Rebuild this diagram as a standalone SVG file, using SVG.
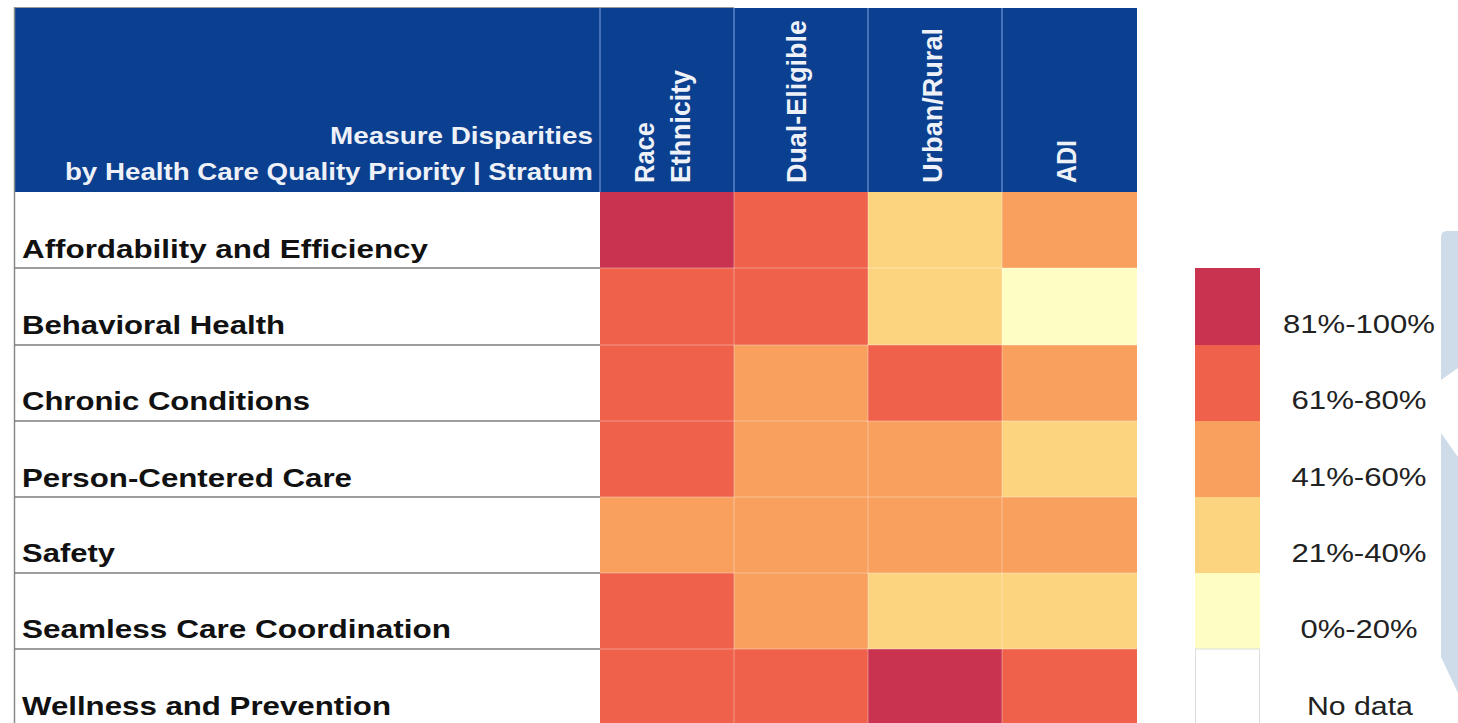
<svg xmlns="http://www.w3.org/2000/svg" width="1458" height="723" viewBox="0 0 1458 723">
<style>
.c5{fill:#C93350}.c4{fill:#EF614B}.c3{fill:#F9A05E}.c2{fill:#FCD47F}.c1{fill:#FEFDC4}.c0{fill:#FFFFFF}
.hdr{fill:#0B3F8F}
.lbl{font-family:"Liberation Sans",Arial,sans-serif;font-weight:bold;font-size:26px;fill:#111}
.htx{font-family:"Liberation Sans",Arial,sans-serif;font-weight:bold;font-size:24px;fill:#EEF2F8}
.vtx{font-family:"Liberation Sans",Arial,sans-serif;font-weight:bold;font-size:27px;fill:#EEF2F8}
.leg{font-family:"Liberation Sans",Arial,sans-serif;font-size:26px;fill:#222}
.rowline{stroke:#7d7d7d;stroke-width:1.5}
.cellsep{stroke:#ffffff;stroke-opacity:0.35;stroke-width:1}
.hsep{stroke:#6F93D2;stroke-width:1.2}
.deco{fill:#CEDCEA}
</style>
<rect x="0" y="0" width="1458" height="723" fill="#FFFFFF"/>

<!-- decorative light blue shapes on the right edge -->
<g id="decor">
<path class="deco" d="M1441,237 Q1441,231 1447,231 L1458,231 L1458,368 L1441,380 Z"/>
<path class="deco" d="M1441,433 L1458,457 L1458,693 L1441,657 Z"/>
</g>

<!-- header -->
<g id="header">
<rect class="hdr" x="14" y="8" width="1123" height="184"/>
<line x1="14" y1="7.5" x2="734" y2="7.5" stroke="#9a9a9a" stroke-width="1"/>
<line class="hsep" x1="600" y1="8" x2="600" y2="192"/>
<line class="hsep" x1="734" y1="8" x2="734" y2="192"/>
<line class="hsep" x1="868" y1="8" x2="868" y2="192"/>
<line class="hsep" x1="1002" y1="8" x2="1002" y2="192"/>
<g transform="scale(1.16 1)">
<text class="htx" x="511.2" y="144" text-anchor="end" textLength="226.7" lengthAdjust="spacingAndGlyphs">Measure Disparities</text>
<text class="htx" x="511.2" y="180" text-anchor="end" textLength="455.2" lengthAdjust="spacingAndGlyphs">by Health Care Quality Priority | Stratum</text>
</g>
</g>
<g id="col-race"><text class="vtx" transform="translate(654,183) rotate(-90)" textLength="61" lengthAdjust="spacingAndGlyphs">Race</text><text class="vtx" transform="translate(690,183) rotate(-90)" textLength="113" lengthAdjust="spacingAndGlyphs">Ethnicity</text></g>
<g id="col-dual"><text class="vtx" transform="translate(806,183) rotate(-90)" textLength="163" lengthAdjust="spacingAndGlyphs">Dual-Eligible</text></g>
<g id="col-urban"><text class="vtx" transform="translate(942,183) rotate(-90)" textLength="155" lengthAdjust="spacingAndGlyphs">Urban/Rural</text></g>
<g id="col-adi"><text class="vtx" transform="translate(1076,183) rotate(-90)" textLength="43" lengthAdjust="spacingAndGlyphs">ADI</text></g>

<!-- rows -->
<g id="row-affordability">
<rect class="c5" x="600" y="192" width="134" height="76"/><rect class="c4" x="734" y="192" width="134" height="76"/><rect class="c2" x="868" y="192" width="134" height="76"/><rect class="c3" x="1002" y="192" width="135" height="76"/>
<text class="lbl" transform="scale(1.2 1)" x="18.33" y="258" textLength="338.3" lengthAdjust="spacingAndGlyphs">Affordability and Efficiency</text>
</g>
<g id="row-behavioral">
<rect class="c4" x="600" y="268" width="134" height="77"/><rect class="c4" x="734" y="268" width="134" height="77"/><rect class="c2" x="868" y="268" width="134" height="77"/><rect class="c1" x="1002" y="268" width="135" height="77"/>
<text class="lbl" transform="scale(1.2 1)" x="18.33" y="334" textLength="219.2" lengthAdjust="spacingAndGlyphs">Behavioral Health</text>
</g>
<g id="row-chronic">
<rect class="c4" x="600" y="345" width="134" height="76"/><rect class="c3" x="734" y="345" width="134" height="76"/><rect class="c4" x="868" y="345" width="134" height="76"/><rect class="c3" x="1002" y="345" width="135" height="76"/>
<text class="lbl" transform="scale(1.2 1)" x="18.33" y="410" textLength="240" lengthAdjust="spacingAndGlyphs">Chronic Conditions</text>
</g>
<g id="row-person">
<rect class="c4" x="600" y="421" width="134" height="76"/><rect class="c3" x="734" y="421" width="134" height="76"/><rect class="c3" x="868" y="421" width="134" height="76"/><rect class="c2" x="1002" y="421" width="135" height="76"/>
<text class="lbl" transform="scale(1.2 1)" x="18.33" y="487" textLength="275" lengthAdjust="spacingAndGlyphs">Person-Centered Care</text>
</g>
<g id="row-safety">
<rect class="c3" x="600" y="497" width="134" height="76"/><rect class="c3" x="734" y="497" width="134" height="76"/><rect class="c3" x="868" y="497" width="134" height="76"/><rect class="c3" x="1002" y="497" width="135" height="76"/>
<text class="lbl" transform="scale(1.2 1)" x="18.33" y="562" textLength="77.5" lengthAdjust="spacingAndGlyphs">Safety</text>
</g>
<g id="row-seamless">
<rect class="c4" x="600" y="573" width="134" height="76"/><rect class="c3" x="734" y="573" width="134" height="76"/><rect class="c2" x="868" y="573" width="134" height="76"/><rect class="c2" x="1002" y="573" width="135" height="76"/>
<text class="lbl" transform="scale(1.2 1)" x="18.33" y="638" textLength="357.5" lengthAdjust="spacingAndGlyphs">Seamless Care Coordination</text>
</g>
<g id="row-wellness">
<rect class="c4" x="600" y="649" width="134" height="76"/><rect class="c4" x="734" y="649" width="134" height="76"/><rect class="c5" x="868" y="649" width="134" height="76"/><rect class="c4" x="1002" y="649" width="135" height="76"/>
<text class="lbl" transform="scale(1.2 1)" x="18.33" y="715" textLength="307.5" lengthAdjust="spacingAndGlyphs">Wellness and Prevention</text>
</g>

<!-- grid lines -->
<g id="grid">
<line x1="14.5" y1="7" x2="14.5" y2="723" stroke="#8a8a8a" stroke-width="1.5"/>
<line class="rowline" x1="14" y1="268" x2="600" y2="268"/>
<line class="rowline" x1="14" y1="345" x2="600" y2="345"/>
<line class="rowline" x1="14" y1="421" x2="600" y2="421"/>
<line class="rowline" x1="14" y1="497" x2="600" y2="497"/>
<line class="rowline" x1="14" y1="573" x2="600" y2="573"/>
<line class="rowline" x1="14" y1="649" x2="600" y2="649"/>
<line class="cellsep" x1="600" y1="268" x2="1137" y2="268"/>
<line class="cellsep" x1="600" y1="345" x2="1137" y2="345"/>
<line class="cellsep" x1="600" y1="421" x2="1137" y2="421"/>
<line class="cellsep" x1="600" y1="497" x2="1137" y2="497"/>
<line class="cellsep" x1="600" y1="573" x2="1137" y2="573"/>
<line class="cellsep" x1="600" y1="649" x2="1137" y2="649"/>
<line class="cellsep" x1="734" y1="192" x2="734" y2="723"/>
<line class="cellsep" x1="868" y1="192" x2="868" y2="723"/>
<line class="cellsep" x1="1002" y1="192" x2="1002" y2="723"/>
</g>

<!-- legend -->
<g id="legend">
<g id="leg-81"><rect class="c5" x="1195" y="268" width="65" height="77"/><text class="leg" transform="scale(1.18 1)" x="1151.7" y="333" text-anchor="middle" textLength="128.8" lengthAdjust="spacingAndGlyphs">81%-100%</text></g>
<g id="leg-61"><rect class="c4" x="1195" y="345" width="65" height="76"/><text class="leg" transform="scale(1.18 1)" x="1151.7" y="409" text-anchor="middle" textLength="114.4" lengthAdjust="spacingAndGlyphs">61%-80%</text></g>
<g id="leg-41"><rect class="c3" x="1195" y="421" width="65" height="76"/><text class="leg" transform="scale(1.18 1)" x="1151.7" y="486" text-anchor="middle" textLength="114.4" lengthAdjust="spacingAndGlyphs">41%-60%</text></g>
<g id="leg-21"><rect class="c2" x="1195" y="497" width="65" height="76"/><text class="leg" transform="scale(1.18 1)" x="1151.7" y="562" text-anchor="middle" textLength="114.4" lengthAdjust="spacingAndGlyphs">21%-40%</text></g>
<g id="leg-0"><rect class="c1" x="1195" y="573" width="65" height="76"/><text class="leg" transform="scale(1.18 1)" x="1151.7" y="638" text-anchor="middle" textLength="99.2" lengthAdjust="spacingAndGlyphs">0%-20%</text></g>
<g id="leg-nodata"><rect x="1195.5" y="649" width="64" height="76" fill="#FFFFFF" stroke="#DDDDDD" stroke-width="1"/><text class="leg" transform="scale(1.18 1)" x="1152.5" y="715" text-anchor="middle" textLength="89.8" lengthAdjust="spacingAndGlyphs">No data</text></g>
</g>
</svg>
